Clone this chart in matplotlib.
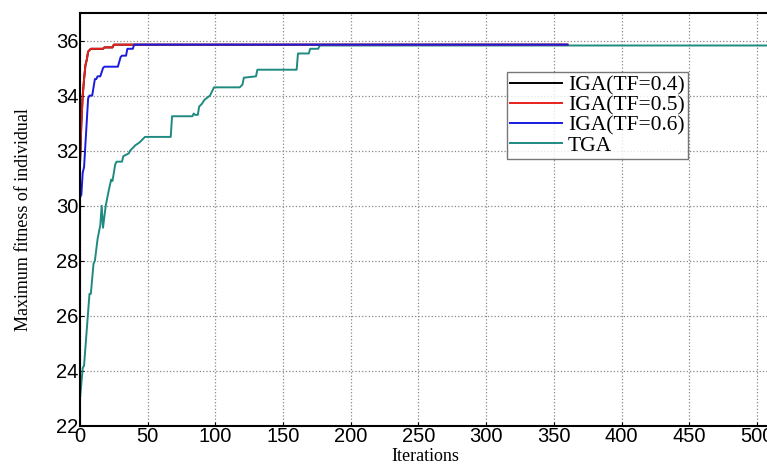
import matplotlib.pyplot as plt

# -------------------------------
# Data
# -------------------------------
red_x = [0, 1, 2, 3, 4, 5, 6, 8, 17, 18, 24, 25, 360]
red_y = [31.5, 33.0, 34.0, 34.6, 35.1, 35.3, 35.6, 35.7, 35.7, 35.75, 35.75, 35.85, 35.85]

# IGA(TF=0.4) is hidden under the red curve in the reference
black_x = [0, 1, 2, 3, 4, 5, 6, 8, 17, 18, 24, 25, 360]
black_y = [31.5, 33.0, 34.0, 34.6, 35.1, 35.3, 35.6, 35.7, 35.7, 35.75, 35.75, 35.85, 35.85]

blue_x = [0, 1, 2, 3, 6, 7, 9, 11, 12, 13, 15, 17, 18, 28, 30, 31, 34, 35, 39, 40, 360]
blue_y = [30.3, 30.4, 31.2, 31.4, 33.9, 34.0, 34.0, 34.6, 34.6, 34.7, 34.7, 35.0, 35.05,
          35.05, 35.4, 35.45, 35.45, 35.7, 35.7, 35.85, 35.85]

tga_x = [0, 2, 3, 5, 7, 8, 10, 11, 13, 15, 16, 17, 19, 21, 23, 24, 26, 27, 31, 32, 36,
         37, 39, 41, 44, 46, 48, 67, 68, 83, 84, 85, 87, 88, 90, 92, 96, 99, 118, 120,
         121, 130, 131, 160, 161, 169, 170, 176, 177, 510]
tga_y = [23.0, 24.1, 24.2, 25.5, 26.8, 26.8, 27.9, 28.0, 28.8, 29.3, 30.0, 29.2, 30.0,
         30.5, 30.95, 30.9, 31.5, 31.6, 31.6, 31.8, 31.9, 32.0, 32.1, 32.2, 32.3, 32.4,
         32.5, 32.5, 33.25, 33.25, 33.35, 33.3, 33.3, 33.6, 33.7, 33.85, 34.0, 34.3, 34.3,
         34.4, 34.65, 34.7, 34.94, 34.94, 35.53, 35.53, 35.7, 35.7, 35.82, 35.82]

x_ticks = [0, 50, 100, 150, 200, 250, 300, 350, 400, 450, 500]
y_ticks = [22, 24, 26, 28, 30, 32, 34, 36]

# -------------------------------
# Plot
# -------------------------------
fig = plt.figure(figsize=(7.67, 4.66), dpi=100)
ax = fig.add_axes([80 / 767, 40 / 466, 690.5 / 767, 413 / 466])

ax.plot(black_x, black_y, color="black", lw=1.4, label="IGA(TF=0.4)")
ax.plot(tga_x, tga_y, color="#1f8a80", lw=1.4, label="TGA")
ax.plot(red_x, red_y, color="#e8201c", lw=1.4, label="IGA(TF=0.5)")
ax.plot(blue_x, blue_y, color="#1a1ae0", lw=1.4, label="IGA(TF=0.6)")

ax.set_xlim(0, 510)
ax.set_ylim(22, 37)
ax.set_xticks(x_ticks)
ax.set_yticks(y_ticks)
ax.grid(True, linestyle=":", color="#888888", lw=0.9)
ax.tick_params(direction="in", length=3, labelsize=14.5, pad=1)
for lab in ax.get_xticklabels() + ax.get_yticklabels():
    lab.set_family("Liberation Sans")
for sp in ax.spines.values():
    sp.set_linewidth(1.5)

ax.set_xlabel("Iterations", family="Liberation Serif", fontsize=13, labelpad=1)
ax.set_ylabel("Maximum fitness of individual", family="Liberation Serif", fontsize=13, labelpad=17)

handles, labels = ax.get_legend_handles_labels()
order = [0, 2, 3, 1]
leg = ax.legend([handles[i] for i in order], [labels[i] for i in order],
                loc="upper left", bbox_to_anchor=(0.618, 0.857), borderaxespad=0,
                prop={"family": "Liberation Serif", "size": 15.5},
                frameon=True, fancybox=False, edgecolor="#555555",
                borderpad=0.15, labelspacing=0.0, handlelength=2.4, handletextpad=0.3)
leg.get_frame().set_linewidth(1.0)

plt.savefig("out.png", dpi=100)
plt.close()
